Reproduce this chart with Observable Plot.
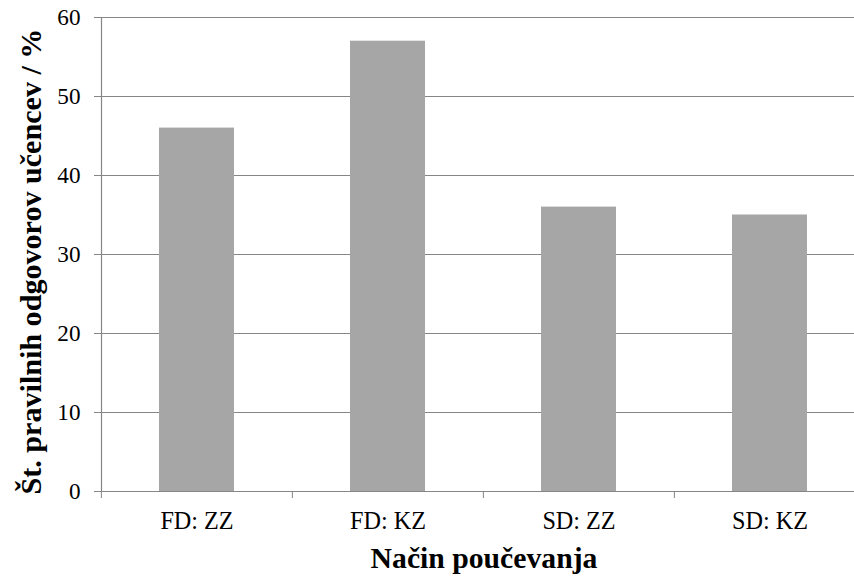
<!DOCTYPE html>
<html>
<head>
<meta charset="utf-8">
<script src="https://cdn.jsdelivr.net/npm/d3@7"></script>
<script src="https://cdn.jsdelivr.net/npm/@observablehq/plot@0.6"></script>
<style>
  html, body { margin: 0; padding: 0; background: #fff; overflow: hidden; }
  #chart { width: 854px; height: 576px; overflow: hidden; }
  #chart svg { max-width: none !important; }
</style>
</head>
<body>
<div id="chart"></div>
<script>
const categories = ["FD: ZZ", "FD: KZ", "SD: ZZ", "SD: KZ"];
const values = [46, 57, 36, 35];
const yTicks = [0, 10, 20, 30, 40, 50, 60];
const gridTicks = [10, 20, 30, 40, 50, 60];
const xTitle = "Način poučevanja";
const yTitle = "Št. pravilnih odgovorov učencev / %";

const data = categories.map((c, i) => ({category: c, value: values[i]}));

const W = 866, H = 576, ML = 101, MR = 0, MT = 17, MB = 85;
const step = (W - ML - MR) / categories.length;
const axisColor = "#868686";
const serif = "Liberation Serif";

const chart = Plot.plot({
  width: W,
  height: H,
  marginLeft: ML,
  marginRight: MR,
  marginTop: MT,
  marginBottom: MB,
  style: {fontFamily: serif, color: "#000", background: "#fff", overflow: "visible", maxWidth: "none"},
  x: {domain: categories, paddingInner: 0.605, paddingOuter: 0.3025, label: null},
  y: {domain: [0, 60], label: null},
  marks: [
    Plot.gridY(gridTicks, {stroke: axisColor, strokeOpacity: 1, strokeWidth: 1.2}),
    Plot.barY(data, {x: "category", y: "value", fill: "#a6a6a6"}),
    Plot.ruleY([0], {stroke: axisColor, strokeWidth: 1.2}),
    Plot.frame({anchor: "left", stroke: axisColor, strokeWidth: 1.2}),
    Plot.axisY(yTicks, {tickSize: 7, tickPadding: 14, fontSize: 23.2, fontFamily: serif, stroke: axisColor, fill: "#000", label: null}),
    Plot.axisX(categories, {tickSize: 7, dx: -step / 2, text: null, stroke: axisColor, label: null}),
    Plot.axisX(categories, {tickSize: 0, tickPadding: 20, fontSize: 24.2, fontFamily: serif, fill: "#000", label: null}),
    Plot.text([xTitle], {frameAnchor: "bottom", textAnchor: "middle", lineAnchor: "middle", dy: 67, fontSize: 29.7, fontFamily: serif, fontWeight: "bold", fill: "#000"}),
    Plot.text([yTitle], {frameAnchor: "left", textAnchor: "middle", lineAnchor: "middle", rotate: -90, dx: -70, dy: 7, fontSize: 30.1, fontFamily: serif, fontWeight: "bold", fill: "#000"})
  ]
});

document.getElementById("chart").appendChild(chart);
</script>
</body>
</html>
